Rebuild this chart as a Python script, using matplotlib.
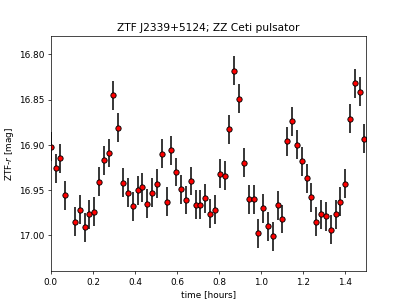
import matplotlib
matplotlib.use('Agg')
import matplotlib.pyplot as plt

# time since start of the run [hours]
time_hr = [0.001, 0.023, 0.045, 0.068, 0.114, 0.137, 0.160, 0.183, 0.207, 0.229,
           0.253, 0.275, 0.297, 0.321, 0.345, 0.367, 0.390, 0.413, 0.435, 0.459,
           0.481, 0.504, 0.528, 0.551, 0.573, 0.596, 0.619, 0.643, 0.666, 0.689,
           0.711, 0.735, 0.757, 0.781, 0.803, 0.827, 0.849, 0.873, 0.895, 0.919,
           0.941, 0.965, 0.987, 1.010, 1.033, 1.056, 1.079, 1.101, 1.125, 1.147,
           1.171, 1.194, 1.217, 1.239, 1.263, 1.285, 1.309, 1.332, 1.355, 1.377,
           1.400, 1.423, 1.446, 1.470, 1.491]

# ZTF-r magnitudes
mag = [16.902, 16.926, 16.915, 16.956, 16.985, 16.972, 16.991, 16.977, 16.974, 16.941,
       16.917, 16.909, 16.845, 16.881, 16.942, 16.953, 16.968, 16.950, 16.947, 16.965,
       16.953, 16.943, 16.910, 16.963, 16.906, 16.930, 16.949, 16.961, 16.940, 16.966,
       16.966, 16.959, 16.976, 16.972, 16.932, 16.934, 16.883, 16.818, 16.849, 16.920,
       16.960, 16.960, 16.998, 16.970, 16.990, 17.001, 16.967, 16.982, 16.896, 16.874,
       16.900, 16.918, 16.937, 16.958, 16.985, 16.977, 16.979, 16.994, 16.977, 16.963,
       16.943, 16.871, 16.832, 16.841, 16.893]

mag_err = [0.016] * len(mag)

fig = plt.figure(figsize=(6.4, 4.8), dpi=407 / 6.4)
ax = fig.add_subplot(111)

ax.errorbar(time_hr, mag, yerr=mag_err, ls='none', marker='o', ms=6,
            mfc='red', mec='black', mew=1.0, ecolor='#222222', elinewidth=2)

ax.set_xlim(0, 1.5)
ax.set_ylim(17.04, 16.78)
ax.set_yticks([16.80, 16.85, 16.90, 16.95, 17.00])
ax.yaxis.set_major_formatter(matplotlib.ticker.FormatStrFormatter('%.2f'))
ax.set_xlabel("time [hours]")
ax.set_ylabel("ZTF-$r$ [mag]")
ax.set_title("ZTF J2339+5124; ZZ Ceti pulsator")

fig.savefig("out.png")
